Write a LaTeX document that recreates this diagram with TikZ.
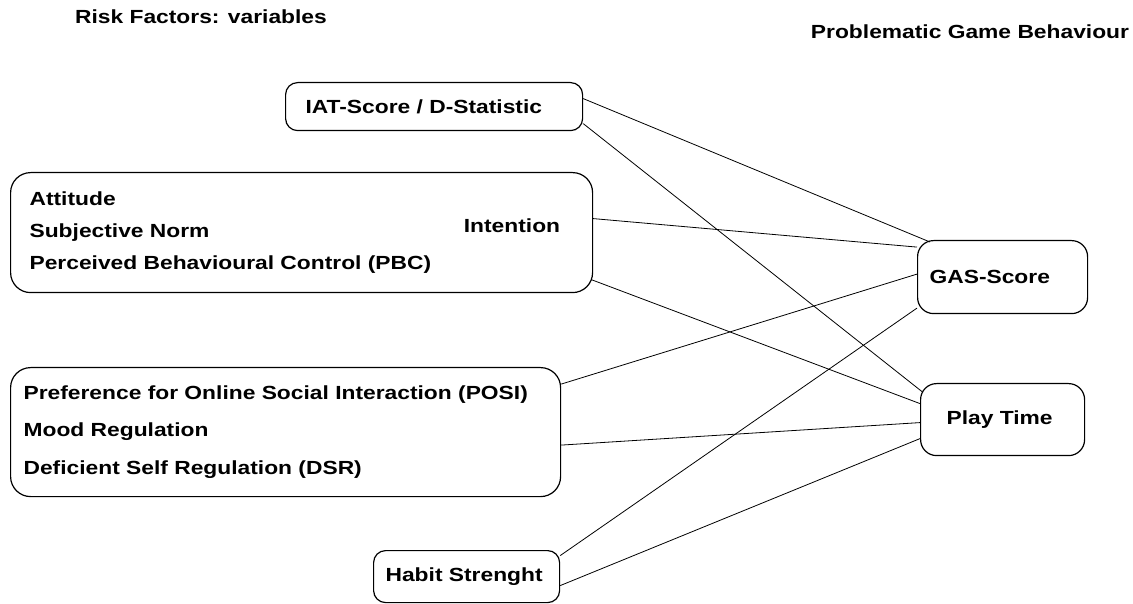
\documentclass[tikz,border=0pt]{standalone}
\usepackage{fontspec}
\setmainfont{Liberation Sans}[FakeStretch=1.2]
\usetikzlibrary{positioning}

\begin{document}
\begin{tikzpicture}[
  x=1pt, y=1pt,
  font=\fontsize{19}{23}\selectfont\bfseries,
  factor/.style={
    draw,
    line width=1.2pt,
    rounded corners=#1,
    anchor=north west,
    align=left,
    inner ysep=0pt
  },
  link/.style={line width=0.8pt}
]
\useasboundingbox (0,0) rectangle (1133,603);

\node (risktitle) at (201,586) {Risk Factors: variables};
\node (gametitle) at (970,571) {Problematic Game Behaviour};

% risk factors on the left
\node[factor=12pt, inner xsep=20pt, text width=257pt, minimum height=48pt]
  (iat) at (285,521) {IAT-Score / D-Statistic};
\node[factor=20pt, inner xsep=19pt, text width=544pt, minimum height=120pt,
  font=\fontsize{19}{32}\selectfont\bfseries]
  (theory) at (10,431) {Attitude\\Subjective Norm\\Perceived Behavioural Control (PBC)};
\node (intention) at (512,377) {Intention};
\node[factor=20pt, inner xsep=13pt, text width=524pt, minimum height=129pt,
  font=\fontsize{19}{37.5}\selectfont\bfseries]
  (motives) at (10,236) {Preference for Online Social Interaction (POSI)\\Mood Regulation\\Deficient Self Regulation (DSR)};
\node[factor=12pt, inner xsep=12pt, text width=162pt, minimum height=52pt]
  (habit) at (373,53) {Habit Strenght};

% outcomes on the right
\node[factor=16pt, inner xsep=12pt, text width=146pt, minimum height=73pt]
  (gas) at (917,363) {GAS-Score};
\node[factor=16pt, inner xsep=26pt, text width=112pt, minimum height=72pt]
  (playtime) at (920,220) {Play Time};

% every factor to both outcomes
\draw[link] ([yshift=8pt]iat.east) -- ([xshift=13pt,yshift=-2pt]gas.north west);
\draw[link] ([yshift=-17pt]iat.east) -- ([xshift=2pt,yshift=28pt]playtime.west);
\draw[link] ([yshift=14pt]theory.east) -- ([yshift=30pt]gas.west);
\draw[link] ([xshift=-2pt,yshift=-47pt]theory.east) -- ([yshift=16pt]playtime.west);
\draw[link] ([yshift=48pt]motives.east) -- ([yshift=3pt]gas.west);
\draw[link] ([yshift=-13pt]motives.east) -- ([yshift=-3pt]playtime.west);
\draw[link] ([yshift=21pt]habit.east) -- ([yshift=-31pt]gas.west);
\draw[link] ([yshift=-9pt]habit.east) -- ([yshift=-19pt]playtime.west);

\end{tikzpicture}
\end{document}
